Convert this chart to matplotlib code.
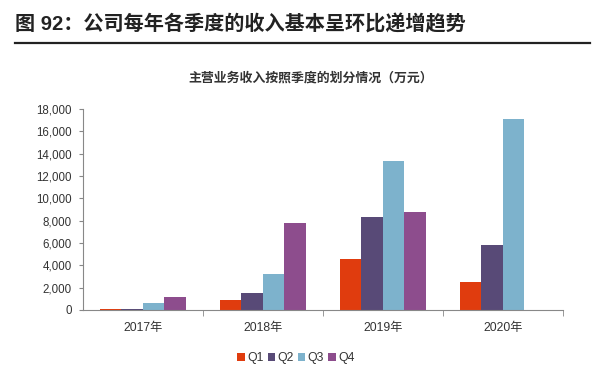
import numpy as np
import matplotlib.pyplot as plt
from matplotlib.ticker import FuncFormatter

plt.rcParams['font.family'] = ['Liberation Sans', 'Noto Sans CJK SC', 'DejaVu Sans']

years = ["2017年", "2018年", "2019年", "2020年"]
quarters = ["Q1", "Q2", "Q3", "Q4"]
q1 = [60, 900, 4550, 2500]
q2 = [120, 1550, 8340, 5800]
q3 = [630, 3200, 13350, 17100]
q4 = [1200, 7800, 8800, 0]
colors = ["#E03C0E", "#584A77", "#7DB2CC", "#8D4D8D"]

fig = plt.figure(figsize=(6, 3.78), dpi=100)
fig.text(0.025, 0.935, "图 92：公司每年各季度的收入基本呈环比递增趋势", fontsize=14.5,
         fontweight='bold', color='#222222', va='center')
fig.add_artist(plt.Line2D([0.025, 0.983], [0.886, 0.886], color='#222222', lw=1.6))
fig.text(0.517, 0.793, "主营业务收入按照季度的划分情况（万元）", fontsize=9.3,
         fontweight='bold', color='#333333', ha='center', va='center')

ax = fig.add_axes([0.138, 0.180, 0.800, 0.532])
x = np.arange(len(years))
w = 0.18
for i, (vals, c, lab) in enumerate(zip([q1, q2, q3, q4], colors, quarters)):
    xs, vs = [], []
    for xi, v in zip(x, vals):
        if v > 0:
            xs.append(xi + (i - 1.5) * w)
            vs.append(v)
    ax.bar(xs, vs, width=w, color=c, label=lab)

ax.set_xlim(-0.5, 3.5)
ax.set_ylim(0, 18000)
ax.set_yticks(range(0, 18001, 2000))
ax.yaxis.set_major_formatter(FuncFormatter(lambda v, _: f"{int(v):,}"))
ax.set_xticks(x)
ax.set_xticklabels(years)
ax.set_xticks([0.5, 1.5, 2.5, 3.5], minor=True)
ax.tick_params(axis='x', which='major', length=0, pad=9, labelsize=8.8, colors='#333333')
ax.tick_params(axis='x', which='minor', length=4, direction='out', color='#888888')
ax.tick_params(axis='y', length=3, direction='out', color='#888888', labelsize=8.3,
               labelcolor='#333333', pad=5)
for s in ['top', 'right']:
    ax.spines[s].set_visible(False)
for s in ['left', 'bottom']:
    ax.spines[s].set_color('#888888')
    ax.spines[s].set_linewidth(0.8)

ax.legend(loc='upper center', bbox_to_anchor=(0.444, -0.155), ncol=4, frameon=False,
          fontsize=8.8, handlelength=0.6, handleheight=0.6, handletextpad=0.2,
          columnspacing=0.35, labelcolor='#333333')

fig.savefig("out.png", dpi=100)
